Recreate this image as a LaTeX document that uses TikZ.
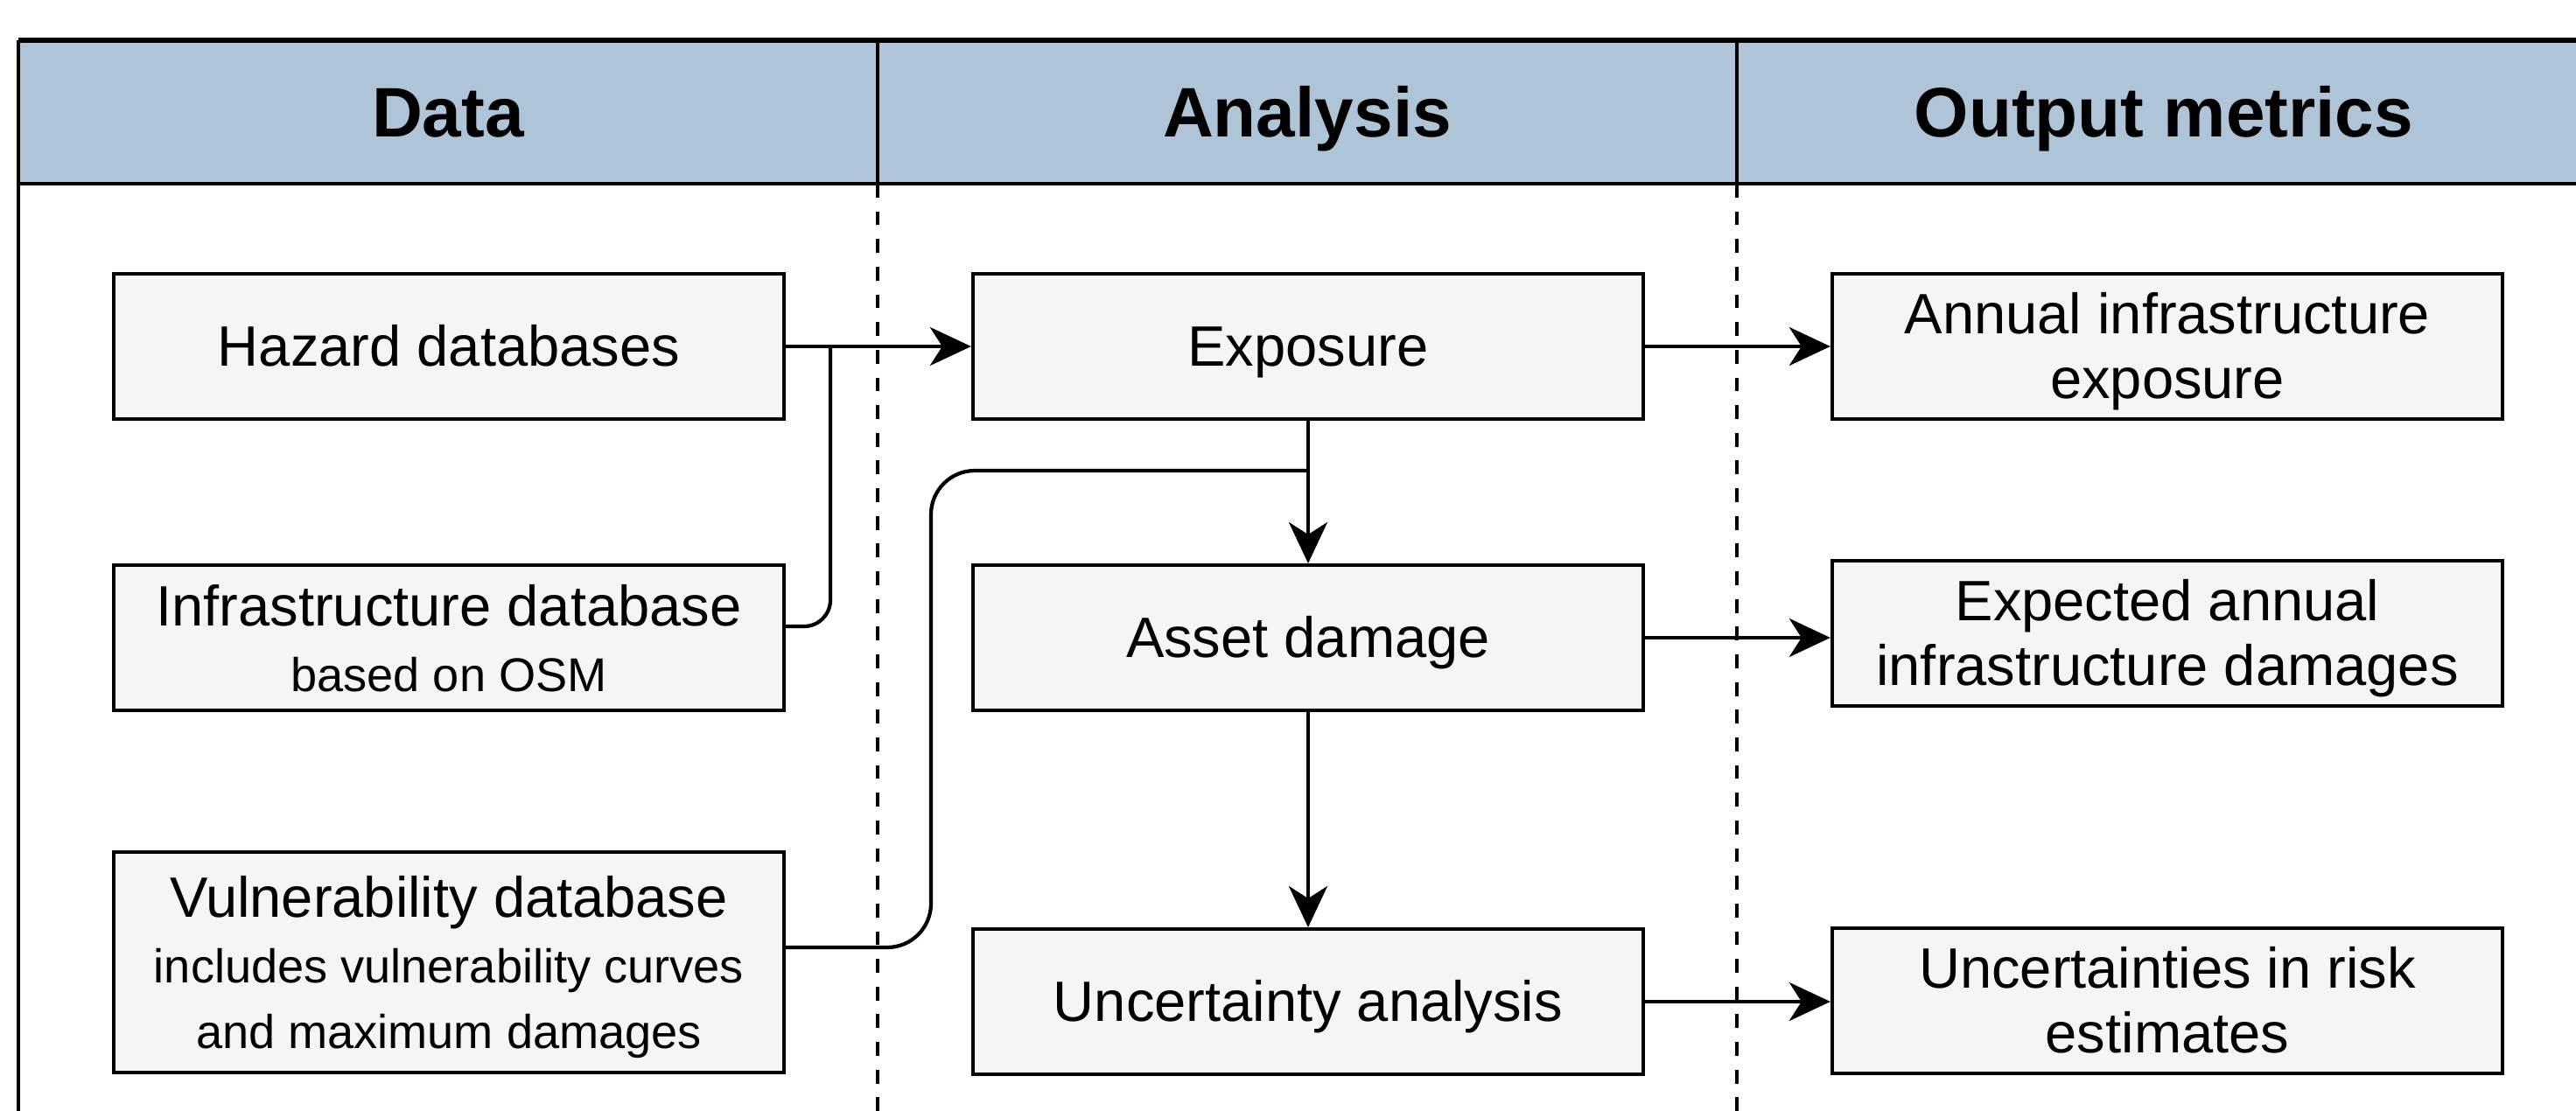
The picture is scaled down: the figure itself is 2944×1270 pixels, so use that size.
\documentclass[tikz,border=0pt]{standalone}
\usepackage{fontspec}
\setmainfont{Liberation Sans}
\usetikzlibrary{arrows.meta}
\definecolor{headblue}{RGB}{176,196,216}
\definecolor{boxgray}{RGB}{245,245,245}
\newcommand{\lstrut}{\rule[-0.212em]{0pt}{1.117em}}
\newcommand{\subline}[1]{{\fontsize{15.4}{21.3}\selectfont\lstrut #1}}
\tikzset{
  box/.style={draw, line width=1.1pt, fill=boxgray, minimum width=7.66cm, minimum height=1.66cm, inner sep=0pt, align=center, font=\fontsize{18.5}{21.3}\selectfont},
  head/.style={anchor=base, font=\fontsize{22.8}{26}\selectfont\bfseries},
  link/.style={line width=1.2pt},
  arr/.style={line width=1.2pt, -{Stealth[length=0.47cm, width=0.44cm, inset=0.14cm]}},
}
\begin{document}
\begin{tikzpicture}[x=0.01cm, y=-0.01cm]
\useasboundingbox (0,0) rectangle (2944,1270);
\fill[headblue] (21,46) rectangle (2944,210); % header band
\draw[line width=1.7pt] (21,46) -- (2944,46);
\draw[line width=1.1pt] (21,210) -- (2944,210);
\draw[line width=1pt] (21,46) -- (21,1270);
\foreach \x in {1003,1985} % edit here for the column lines
{\draw[line width=1pt] (\x,46) -- (\x,210);
 \draw[line width=1.1pt, dash pattern=on 4.5pt off 4.5pt] (\x,210) -- (\x,1270);}
\foreach \n/\x/\texto in {hdata/512/Data,hanalysis/1494/Analysis,houtput/2473/Output metrics}
\node[head] (\n) at (\x,157) {\texto};
% data column
\node[box] (hazard) at (513,396) {\lstrut Hazard databases};
\node[box] (infra) at (513,729) {\lstrut Infrastructure database\\\subline{based on OSM}};
\node[box, minimum height=2.52cm] (vuln) at (513,1100) {\lstrut Vulnerability database\\\subline{includes vulnerability curves}\\\subline{and maximum damages}};
% analysis column
\node[box] (expo) at (1495,396) {\lstrut Exposure};
\node[box] (damage) at (1495,729) {\lstrut Asset damage};
\node[box] (uncert) at (1495,1145) {\lstrut Uncertainty analysis};
% output column
\node[box] (annual) at (2477,396) {\lstrut Annual infrastructure\\\lstrut exposure};
\node[box] (ead) at (2477,724) {\lstrut Expected annual\\\lstrut infrastructure damages};
\node[box] (risk) at (2477,1144) {\lstrut Uncertainties in risk\\\lstrut estimates};
% connectors
\coordinate (hjoin) at (949,396);
\coordinate (ejoin) at (expo.south |- 0,538);
\draw[arr] (hazard) -- (expo);
\draw[link, rounded corners=0.3cm] ([yshift=0.13cm]infra.east) -| (hjoin);
\draw[link, rounded corners=0.5cm] ([yshift=0.17cm]vuln.east) -| (1064,538) -- (ejoin);
\draw[arr] (expo) -- (damage);
\draw[arr] (damage) -- (uncert);
\draw[arr] (expo) -- (annual);
\draw[arr] (damage.east) -- (damage.east -| ead.west);
\draw[arr] (uncert.east) -- (uncert.east -| risk.west);
\end{tikzpicture}
\end{document}
